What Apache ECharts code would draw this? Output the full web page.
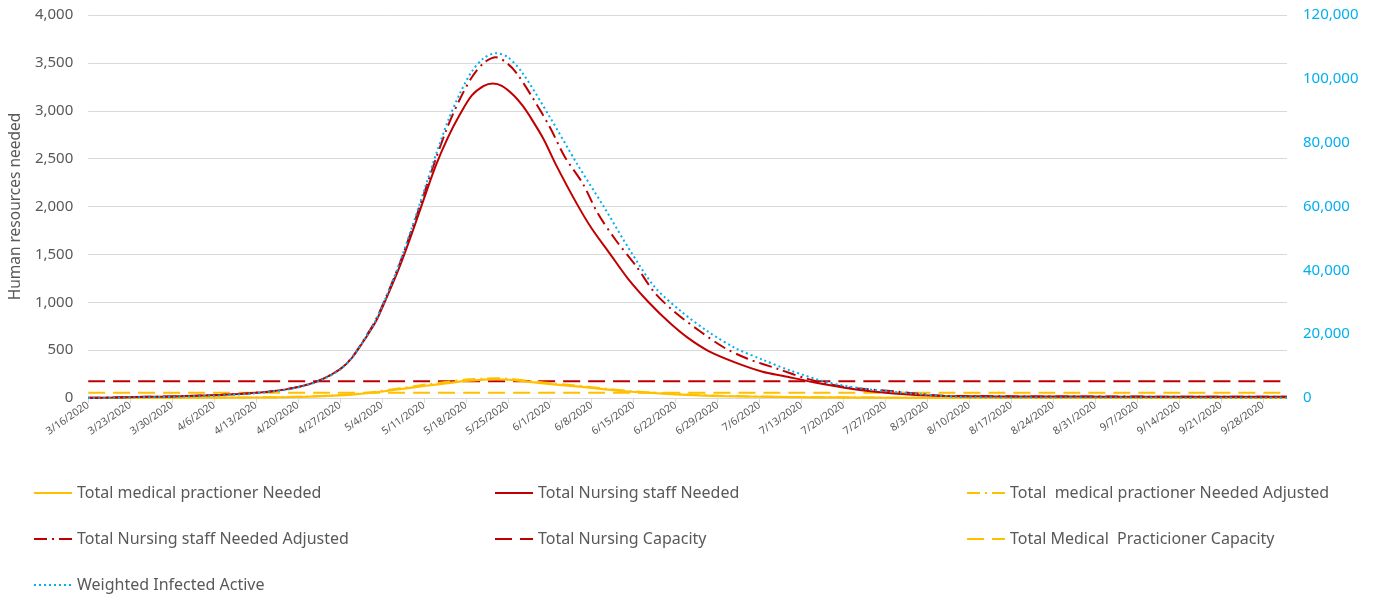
<!DOCTYPE html>
<html>
<head>
<meta charset="utf-8">
<script src="https://cdn.jsdelivr.net/npm/echarts@6/dist/echarts.min.js"></script>
<style>
html,body{margin:0;padding:0;background:#fff;}
#chart{width:1377px;height:597px;}
</style>
</head>
<body>
<div id="chart"></div>
<script>
// x values are day offsets from 3/16/2020
const startDate = [2020, 2, 16];
const tickIntervalDays = 7;
const lastDay = 200;

const medicalNeeded = [[0,0],[10,1],[20,3],[28,5],[33,9],[37,15],[41,25],[44,36],[48,60],[52,92],[56,125],[60,155],[63,178],[66,192],[68,196],[71,186],[74,165],[78,140],[82,118],[86,92],[90,68],[94,52],[98,38],[102,27],[106,20],[112,13],[118,9],[125,6],[132,3],[140,2],[150,2],[170,1],[200,1]];
const nursingNeeded = [[0,2],[4,5],[8,10],[12,14],[16,20],[20,28],[24,38],[27,50],[30,66],[33,90],[36,130],[39,195],[42,300],[44,420],[46,600],[48,800],[50,1080],[52,1380],[54,1720],[56,2080],[58,2430],[60,2720],[62,2960],[64,3160],[66,3260],[67.5,3285],[69,3260],[71,3160],[72.5,3050],[74,2910],[76,2700],[78,2440],[81.5,2030],[84,1770],[87,1510],[90,1250],[93.5,1000],[97,785],[100,630],[103.5,490],[108,370],[112.5,275],[116,230],[121,165],[125,120],[129,82],[133,55],[138,32],[143,22],[150,18],[160,15],[170,14],[180,13],[190,12],[200,12]];
const medicalNeededAdj = [[0,0],[10,1],[20,3],[28,6],[33,10],[37,17],[41,28],[44,40],[48,66],[52,102],[56,138],[60,170],[63,192],[66,203],[68,206],[71,197],[74,176],[78,150],[82,127],[86,100],[90,75],[94,57],[98,42],[102,30],[106,22],[112,15],[118,10],[125,7],[132,4],[140,3],[150,2],[170,2],[200,1]];
const nursingNeededAdj = [[0,2],[4,5],[8,10],[12,14],[16,20],[20,28],[24,38],[27,50],[30,66],[33,90],[36,130],[39,195],[42,300],[44,425],[46,610],[48,820],[50,1100],[52,1410],[54,1760],[56,2130],[58,2500],[60,2840],[62,3120],[64,3350],[66,3500],[68,3560],[70,3490],[71.5,3390],[74,3150],[77,2830],[79.5,2520],[82.5,2240],[85,1930],[88,1650],[91.5,1370],[94.5,1100],[98,890],[102,700],[106,530],[110,410],[115,305],[120,200],[126,118],[135,66],[143,22],[150,18],[160,16],[170,15],[180,14],[190,13],[200,12]];
const nursingCapacity = [[0,175],[200,175]];
const medicalCapacity = [[0,55],[200,55]];
const weightedInfected = [[0,30],[4,90],[8,180],[12,300],[16,450],[20,660],[24,990],[27,1350],[30,1860],[33,2580],[36,3780],[39,5700],[42,8850],[44,12600],[46,18150],[48,24450],[50,33000],[52,42600],[54,53400],[56,64800],[58,76200],[60,86700],[62,95400],[64,102300],[66,106500],[68,108000],[70,106800],[72.5,101700],[77,88080],[81.5,73530],[86,60000],[90.5,45900],[94.5,34800],[99,27000],[103.5,20700],[108,15600],[112.5,12000],[117,8700],[123.5,4830],[129,3030],[136,1650],[146,300],[160,150],[180,120],[200,90]];

const leftTicks = {min:0, max:4000, interval:500};
const rightTicks = {min:0, max:120000, interval:20000};

const RED = '#c00000', YEL = '#ffc000', CYAN = '#00b0f0', TXT = '#595959';
const FONT = '"Noto Sans", sans-serif';

function dayLabel(d){
  const t = new Date(Date.UTC(startDate[0], startDate[1], startDate[2]) + d*86400000);
  return (t.getUTCMonth()+1) + '/' + t.getUTCDate() + '/' + t.getUTCFullYear();
}
function comma(v){ return String(v).replace(/\B(?=(\d{3})+(?!\d))/g, ','); }

const dashDot = [13,5,2,5];
function line(name, data, color, type, width, yIdx){
  return {name, type:'line', data, yAxisIndex:yIdx||0, symbol:'none', showSymbol:false, smooth:0.3,
    lineStyle:{color, width, type}, itemStyle:{color}, z: 2};
}

const chart = echarts.init(document.getElementById('chart'));
const legendBase = {orient:'vertical', top:485, padding:0, itemWidth:38, itemHeight:16, itemGap:30,
  itemStyle:{opacity:0}, textStyle:{color:TXT, fontSize:16, fontFamily:FONT, lineHeight:16}};
chart.setOption({
  animation:false,
  grid:{left:85, right:90, top:15, bottom:199},
  xAxis:{type:'value', min:0, max:lastDay, interval:tickIntervalDays,
    axisLine:{lineStyle:{color:'#d9d9d9'}},
    axisTick:{show:true, length:5, lineStyle:{color:'#d9d9d9'}},
    splitLine:{show:false},
    axisLabel:{rotate:35, fontSize:10.5, color:TXT, fontFamily:FONT, margin:6, showMaxLabel:false,
      formatter:v => dayLabel(v)}},
  yAxis:[
    {type:'value', min:leftTicks.min, max:leftTicks.max, interval:leftTicks.interval,
      name:'Human resources needed', nameLocation:'middle', nameGap:58, nameRotate:90,
      nameTextStyle:{color:TXT, fontSize:15.5, fontFamily:FONT},
      axisLine:{show:false}, axisTick:{show:false},
      splitLine:{lineStyle:{color:'#d9d9d9'}},
      axisLabel:{color:TXT, fontSize:15, fontFamily:FONT, margin:15, formatter:v=>comma(v)}},
    {type:'value', min:rightTicks.min, max:rightTicks.max, interval:rightTicks.interval,
      position:'right', axisLine:{show:false}, axisTick:{show:false}, splitLine:{show:false},
      axisLabel:{color:CYAN, fontSize:15, fontFamily:FONT, margin:16, formatter:v=>comma(v)}}
  ],
  legend:[
    Object.assign({left:33, data:['Total medical practioner Needed','Total Nursing staff Needed Adjusted','Weighted Infected Active']}, legendBase),
    Object.assign({left:494, data:['Total Nursing staff Needed','Total Nursing Capacity']}, legendBase),
    Object.assign({left:966, data:['Total  medical practioner Needed Adjusted','Total Medical  Practicioner Capacity']}, legendBase)
  ],
  series:[
    line('Total Nursing Capacity', nursingCapacity, RED, [17,8], 2),
    line('Total Medical  Practicioner Capacity', medicalCapacity, YEL, [17,8], 2),
    line('Total medical practioner Needed', medicalNeeded, YEL, 'solid', 2.2),
    line('Total  medical practioner Needed Adjusted', medicalNeededAdj, YEL, dashDot, 2),
    line('Total Nursing staff Needed', nursingNeeded, RED, 'solid', 2),
    line('Total Nursing staff Needed Adjusted', nursingNeededAdj, RED, dashDot, 2),
    line('Weighted Infected Active', weightedInfected, CYAN, [2,3], 2, 1)
  ]
});
</script>
</body>
</html>
